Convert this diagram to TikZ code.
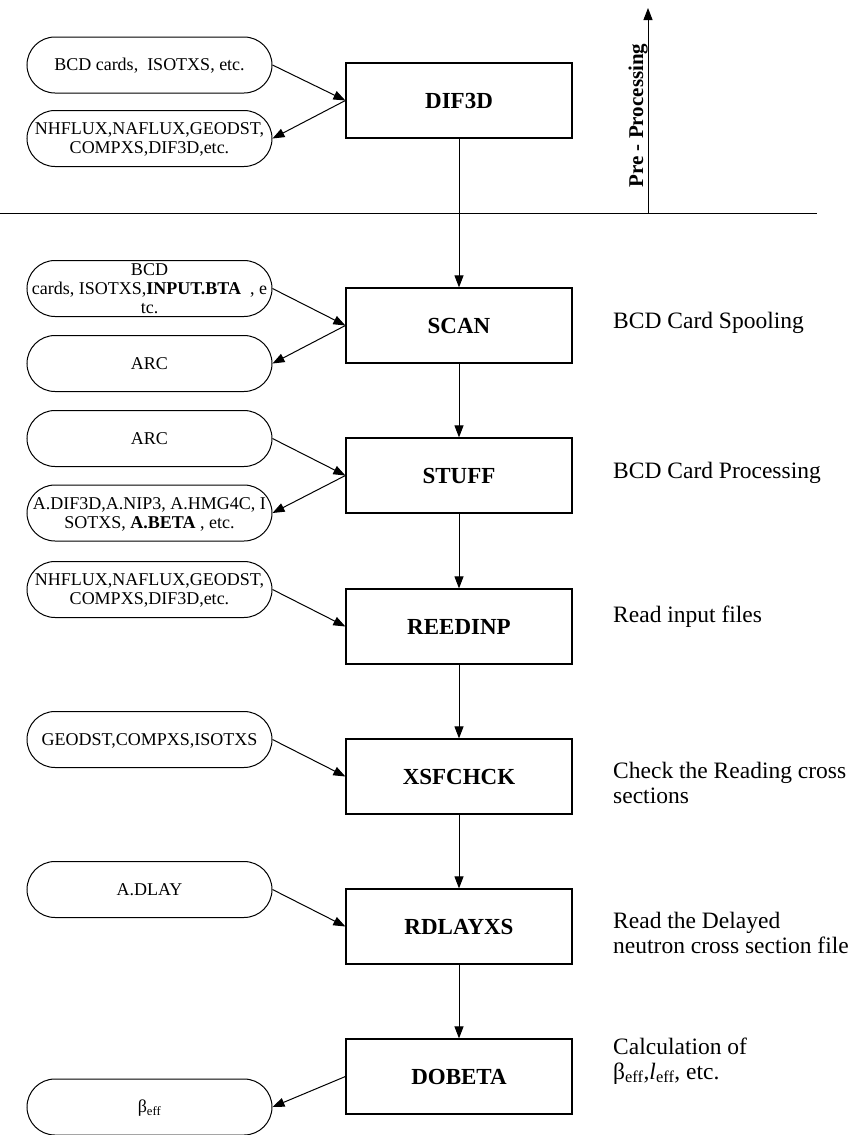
\documentclass[tikz,border=0pt]{standalone}
\usepackage{fontspec}
\setmainfont{Liberation Serif}
\usetikzlibrary{arrows.meta}

\newcommand{\filetxt}[1]{\raisebox{-6.5pt}[0pt][0pt]{\begin{tabular}{@{}c@{}}#1\end{tabular}}}
\newcommand{\steptxt}[1]{\begin{tabular}[t]{@{}l@{}}#1\end{tabular}}

\begin{document}
\begin{tikzpicture}[x=1pt,y=-1pt,
    prog/.style={draw,line width=1.2pt,minimum width=226pt,minimum height=75pt,inner sep=0pt,
      font=\fontsize{23}{27}\selectfont\bfseries},
    file/.style={draw,line width=1pt,rounded corners=28pt,minimum width=245pt,minimum height=56pt,
      inner sep=0pt,font=\fontsize{18}{19}\selectfont},
    note/.style={anchor=base west,inner sep=0pt,font=\fontsize{23.5}{25}\selectfont},
    flow/.style={line width=1pt,-{Triangle[length=12pt,width=9pt]}}]
% Taille de la page : 866 x 1135 (1 unite = 1 pixel)
\def\bx{459}
\def\fx{149.5}
\def\nx{613}
\useasboundingbox (0,0) rectangle (866,1135);

% Les programmes
\node[prog] (dif3d) at (\bx,100.5) {DIF3D};
\node[prog] (scan) at (\bx,325.5) {SCAN};
\node[prog] (stuff) at (\bx,475.5) {STUFF};
\node[prog] (reedinp) at (\bx,626.5) {REEDINP};
\node[prog] (xsfchck) at (\bx,776.5) {XSFCHCK};
\node[prog] (rdlayxs) at (\bx,926.5) {RDLAYXS};
\node[prog] (dobeta) at (\bx,1076.5) {DOBETA};

% Les fichiers
\node[file] (difin) at (\fx,65) {\filetxt{BCD cards,\ \ ISOTXS, etc.}};
\node[file] (difout) at (\fx,138.5) {\filetxt{NHFLUX,NAFLUX,GEODST,\\COMPXS,DIF3D,etc.}};
\node[file] (scanin) at (\fx,288.5) {\filetxt{BCD\\cards,\ ISOTXS,\textbf{INPUT.BTA}\ \ , e\\tc.}};
\node[file] (scanout) at (\fx,363.5) {\filetxt{ARC}};
\node[file] (stuffin) at (\fx,438.5) {\filetxt{ARC}};
\node[file] (stuffout) at (\fx,513) {\filetxt{A.DIF3D,A.NIP3,\ A.HMG4C,\ I\\SOTXS, \textbf{A.BETA}\ , etc.}};
\node[file] (reedin) at (\fx,589.5) {\filetxt{NHFLUX,NAFLUX,GEODST,\\COMPXS,DIF3D,etc.}};
\node[file] (xsfin) at (\fx,739.5) {\filetxt{GEODST,COMPXS,ISOTXS}};
\node[file] (rdlayin) at (\fx,889.5) {\filetxt{A.DLAY}};
\node[file] (dobout) at (\fx,1107) {\filetxt{β\textsubscript{eff}}};

% Les commentaires a droite
\node[note] (n1) at (\nx,328) {BCD Card Spooling};
\node[note] (n2) at (\nx,478) {BCD Card Processing};
\node[note] (n3) at (\nx,622) {Read input files};
\node[note] (n4) at (\nx,778) {\steptxt{Check the Reading cross\\sections}};
\node[note] (n5) at (\nx,928) {\steptxt{Read the Delayed\\neutron cross section file}};
\node[note] (n6) at (\nx,1054) {\steptxt{Calculation of\\β\textsubscript{eff},\textit{l}\textsubscript{eff}, etc.}};

% Separation du pre-traitement
\coordinate (sepl) at (0,213);
\coordinate (sepr) at (817,213);
\coordinate (prebot) at (648,213);
\coordinate (pretop) at (648,8);
\draw[line width=1pt] (sepl) -- (sepr);
\draw[flow] (prebot) -- (pretop);
\node[rotate=90,anchor=base,inner sep=0pt,font=\fontsize{21}{21}\selectfont\bfseries] (pre) at (643,115.5) {Pre - Processing};

% Les fleches
\draw[flow] (difin.east) -- (dif3d.west);
\draw[flow] (dif3d.west) -- (difout.east);
\draw[flow] (dif3d.south) -- (scan.north);
\draw[flow] (scanin.east) -- (scan.west);
\draw[flow] (scan.west) -- (scanout.east);
\draw[flow] (scan.south) -- (stuff.north);
\draw[flow] (stuffin.east) -- (stuff.west);
\draw[flow] (stuff.west) -- (stuffout.east);
\draw[flow] (stuff.south) -- (reedinp.north);
\draw[flow] (reedin.east) -- (reedinp.west);
\draw[flow] (reedinp.south) -- (xsfchck.north);
\draw[flow] (xsfin.east) -- (xsfchck.west);
\draw[flow] (xsfchck.south) -- (rdlayxs.north);
\draw[flow] (rdlayin.east) -- (rdlayxs.west);
\draw[flow] (rdlayxs.south) -- (dobeta.north);
\draw[flow] (dobeta.west) -- (dobout.east);
\end{tikzpicture}
\end{document}
